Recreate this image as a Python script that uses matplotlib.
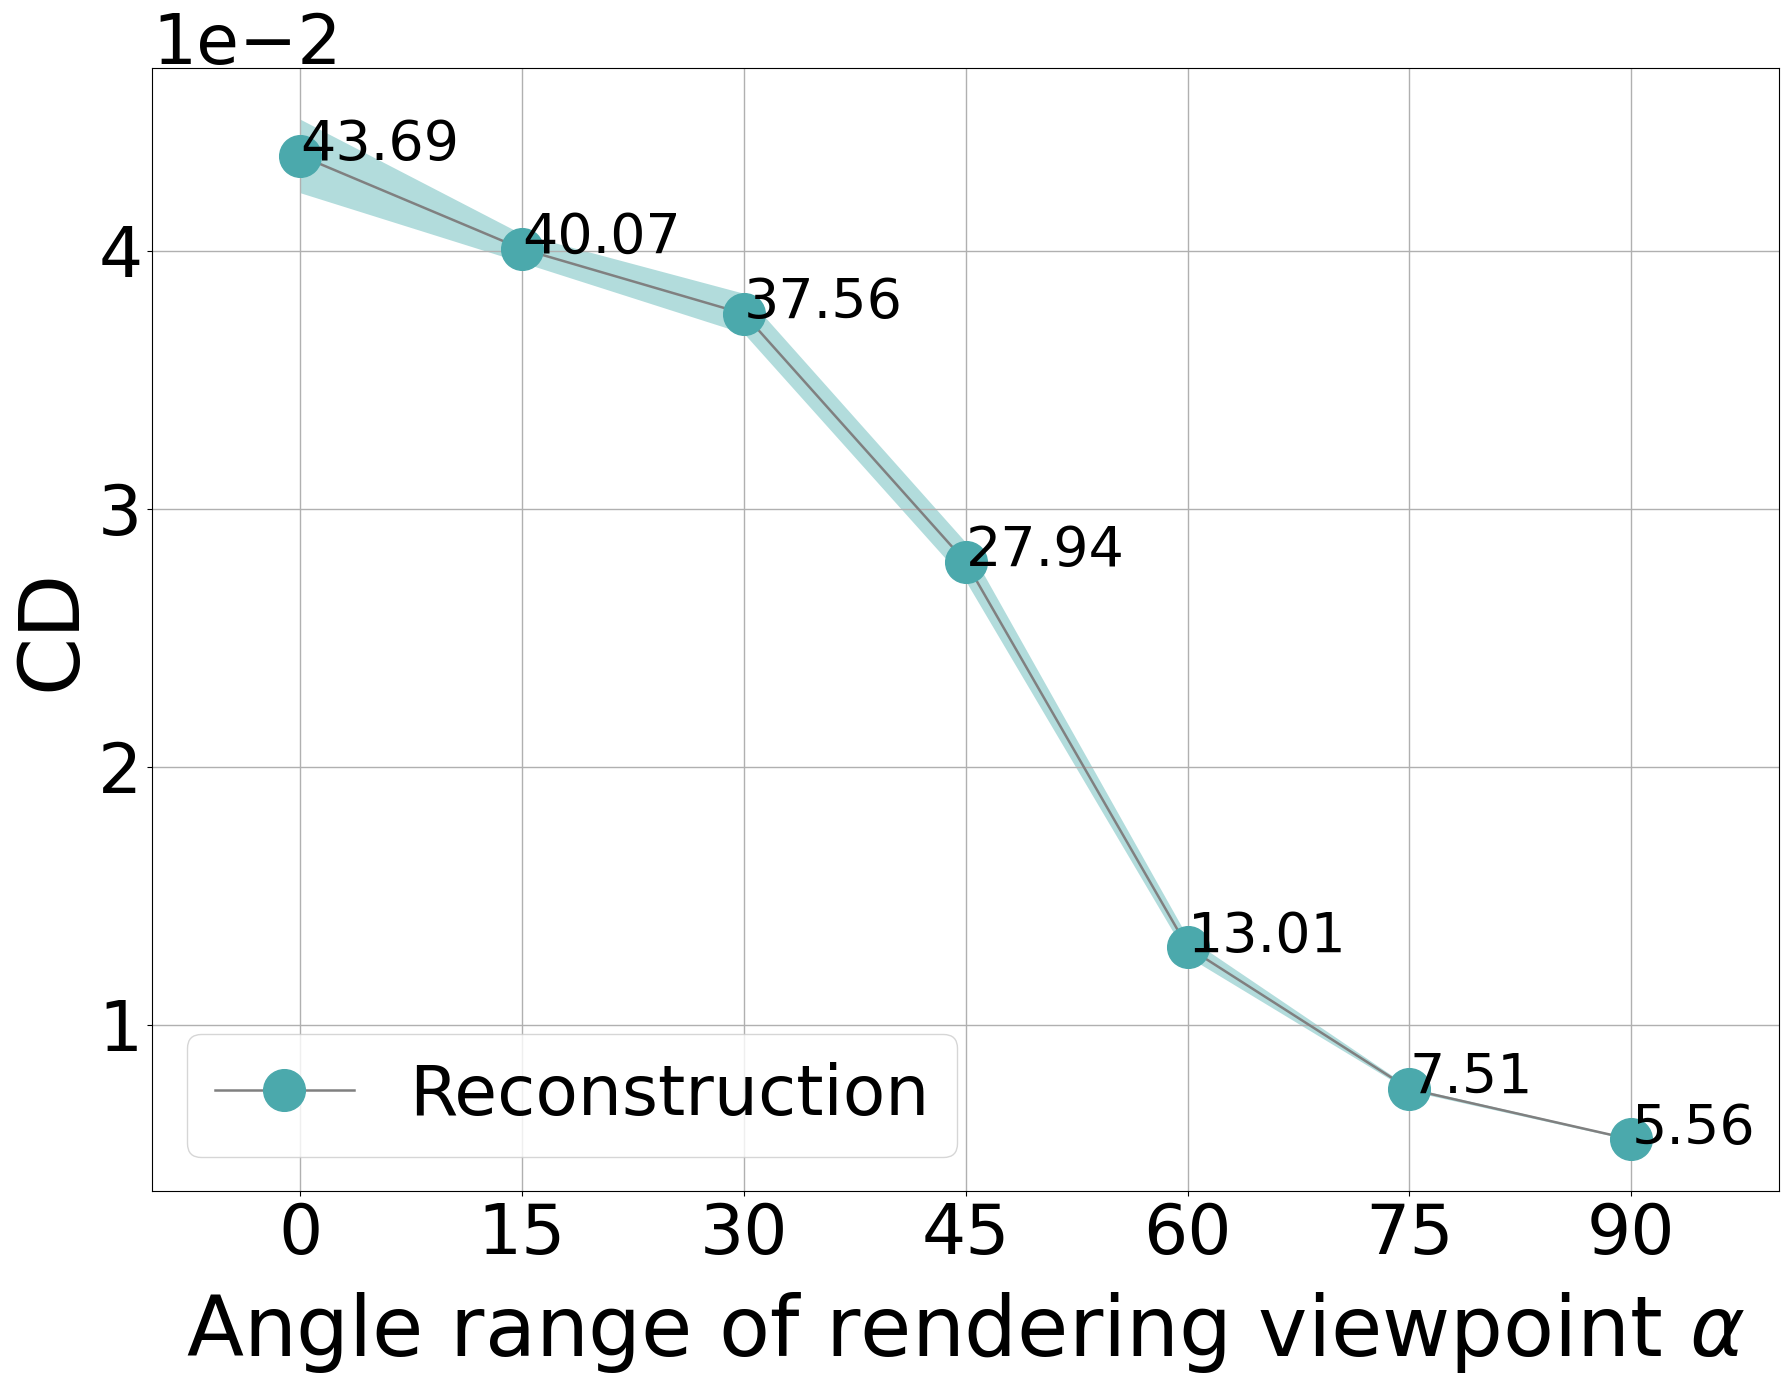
import matplotlib
matplotlib.use("Agg")
import matplotlib.pyplot as plt
import numpy as np

angles = [0, 15, 30, 45, 60, 75, 90]
cd_values = [43.69, 40.07, 37.56, 27.94, 13.01, 7.51, 5.56]  # x1e-3
cd_upper = [45.1, 40.65, 38.35, 28.7, 13.4, 7.58, 5.60]
cd_lower = [42.25, 39.55, 36.8, 27.2, 12.65, 7.44, 5.53]
labels = ["43.69", "40.07", "37.56", "27.94", "13.01", "7.51", "5.56"]

y = np.array(cd_values) * 1e-3
yu = np.array(cd_upper) * 1e-3
yl = np.array(cd_lower) * 1e-3

fig = plt.figure(figsize=(17.9, 13.9), dpi=100)
ax = fig.add_axes([0.085, 0.143, 0.909, 0.808])

ax.fill_between(angles, yl, yu, color="#b2dcdc", linewidth=0)
ax.plot(angles, y, color="gray", linewidth=1.8, marker="o", markersize=30,
        markerfacecolor="#4ba9ac", markeredgecolor="#4ba9ac", label="Reconstruction")
for a, v, t in zip(angles, y, labels):
    ax.annotate(t, (a, v), xytext=(0, -3), textcoords="offset points", fontsize=40)

ax.set_xlim(-10, 100)
ax.set_xticks(angles)
ax.grid(True, color="#b0b0b0", linewidth=1)
ax.ticklabel_format(axis="y", style="sci", scilimits=(0, 0))
ax.tick_params(labelsize=50)
ax.yaxis.get_offset_text().set_fontsize(50)
ax.set_xlabel(r"Angle range of rendering viewpoint $\alpha$", fontsize=60, labelpad=16)
ax.set_ylabel("CD", fontsize=60)
ax.legend(loc="lower left", fontsize=50)

fig.savefig("out.png", dpi=100)
